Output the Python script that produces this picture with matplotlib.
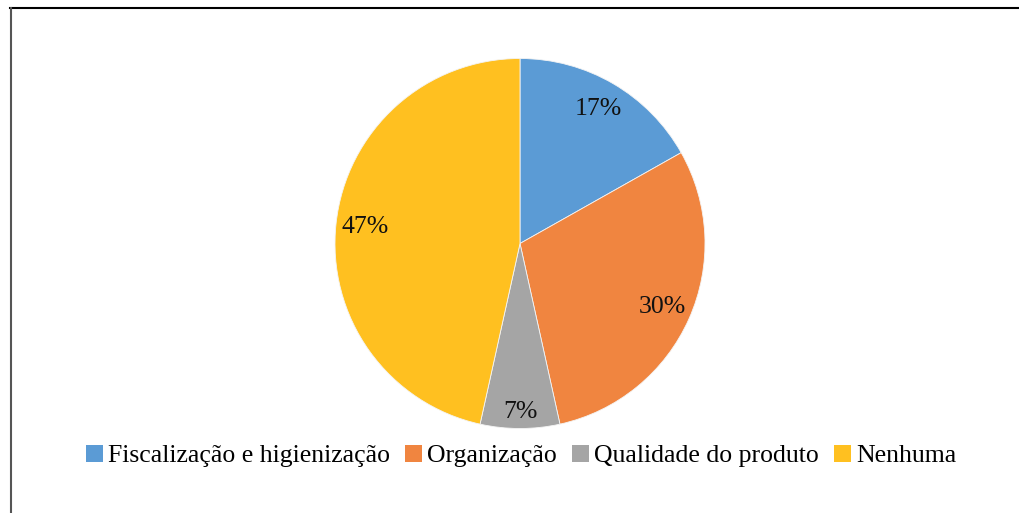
import matplotlib.pyplot as plt
from matplotlib.lines import Line2D
from matplotlib.patches import Patch

labels = ["Fiscalização e higienização", "Organização", "Qualidade do produto", "Nenhuma"]
values = [17, 30, 7, 47]
colors = ["#5B9BD5", "#F08540", "#A5A5A5", "#FFC020"]

plt.rcParams["font.family"] = ["Liberation Serif", "DejaVu Serif"]

fig = plt.figure(figsize=(10.19, 5.13), dpi=100)
W, H = 1019, 513
cx, cy, r = 520, 243.5, 185
ax = fig.add_axes([(cx - r) / W, 1 - (cy + r) / H, 2 * r / W, 2 * r / H])

wedges, texts, autotexts = ax.pie(
    values, colors=colors, startangle=90, counterclock=False,
    autopct=lambda p: f"{p:.0f}%", pctdistance=0.84,
    wedgeprops=dict(linewidth=0.6, edgecolor="#f4f4f4"),
    textprops=dict(fontsize=18.5, color="#111111"),
)
# the small slice label sits a bit further out
x, y = autotexts[2].get_position()
autotexts[2].set_position((x * 0.91 / 0.84, y * 0.91 / 0.84))
ax.set_xlim(-1, 1)
ax.set_ylim(-1, 1)
ax.set_aspect("auto")

handles = [Patch(facecolor=c, edgecolor="none") for c in colors]
fig.legend(handles, labels, loc="center", bbox_to_anchor=(521 / W, 1 - 456 / H),
           ncol=4, frameon=False, fontsize=18.5, handlelength=0.65, handleheight=0.65,
           handletextpad=0.2, columnspacing=0.6, borderaxespad=0)

# frame lines around the chart area
fig.add_artist(Line2D([10 / W, 1], [1 - 8 / H, 1 - 8 / H], color="black", lw=1.5))
fig.add_artist(Line2D([11 / W, 11 / W], [0, 1 - 8 / H], color="#555555", lw=1.5))

fig.savefig("out.png", dpi=100)
